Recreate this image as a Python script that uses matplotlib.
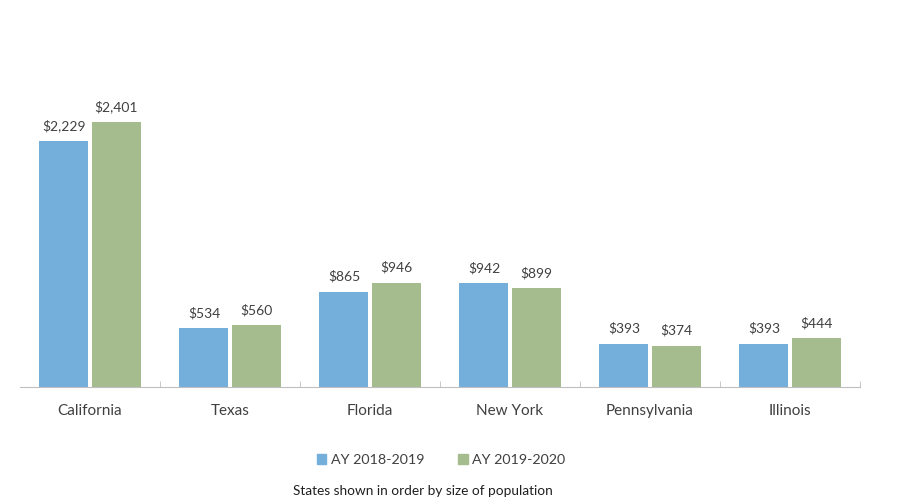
import numpy as np
import matplotlib.pyplot as plt
from matplotlib.patches import Patch

# data
states = ["California", "Texas", "Florida", "New York", "Pennsylvania", "Illinois"]
ay_2018_2019 = [2229, 534, 865, 942, 393, 393]
ay_2019_2020 = [2401, 560, 946, 899, 374, 444]
series_names = ["AY 2018-2019", "AY 2019-2020"]

BLUE = "#74AFDB"
GREEN = "#A5BC8E"
TEXT = "#404040"

plt.rcParams['font.family'] = ['Lato', 'DejaVu Sans']

fig = plt.figure(figsize=(9, 5.04), dpi=100)
ax = fig.add_axes([20 / 900, 1 - 387 / 504, 840 / 900, (387 - 56) / 504])

x = np.arange(len(states))
w = 0.35
gap = 0.011
b1 = ax.bar(x - w / 2 - gap, ay_2018_2019, w, color=BLUE)
b2 = ax.bar(x + w / 2 + gap, ay_2019_2020, w, color=GREEN)

for bars, vals in [(b1, ay_2018_2019), (b2, ay_2019_2020)]:
    for bar, v in zip(bars, vals):
        ax.annotate(f"${v:,}", (bar.get_x() + bar.get_width() / 2, v),
                    xytext=(0, 15), textcoords="offset pixels",
                    ha="center", va="center", fontsize=10, color=TEXT)

ax.set_xlim(-0.5, len(states) - 0.5)
ax.set_ylim(0, 3000)
ax.set_xticks(x)
ax.set_xticklabels(states, fontsize=11, color=TEXT)
ax.set_xticks(np.arange(len(states)) + 0.5, minor=True)
ax.tick_params(axis="x", which="major", length=0, pad=12)
ax.tick_params(axis="x", which="minor", length=4, direction="in", color="#BFBFBF")
ax.set_yticks([])
for s in ["top", "right", "left"]:
    ax.spines[s].set_visible(False)
ax.spines["bottom"].set_color("#BFBFBF")

handles = [Patch(color=BLUE), Patch(color=GREEN)]
fig.legend(handles, series_names, loc="center", bbox_to_anchor=(441 / 900, 1 - 460 / 504),
           ncol=2, frameon=False, fontsize=10.3, handlelength=0.65, handleheight=0.65,
           handletextpad=0.3, columnspacing=2.4, labelcolor=TEXT)

fig.text(423 / 900, 1 - 491 / 504, "States shown in order by size of population",
         ha="center", va="center", fontsize=9.8, color="#202020")

fig.savefig("out.png", dpi=100)
